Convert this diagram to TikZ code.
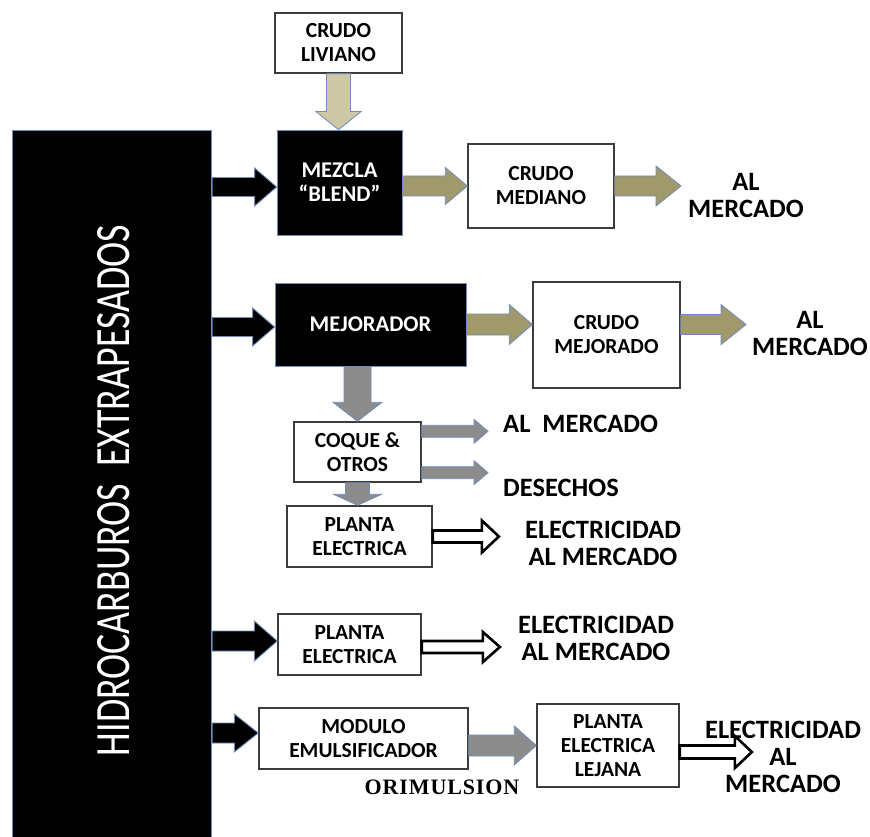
\documentclass[tikz,border=0pt]{standalone}
\usepackage{graphicx}
\usepackage{fontspec}
\setmainfont{Carlito}
\newfontfamily\orifont[LetterSpace=4]{Liberation Serif}
\usetikzlibrary{calc}

\definecolor{edgeblue}{RGB}{112,140,188}
\definecolor{khakilight}{RGB}{205,200,165}
\definecolor{khakidark}{RGB}{160,153,107}
\definecolor{flowgray}{RGB}{140,140,140}
\definecolor{boxline}{RGB}{60,60,60}

% block arrow pointing right: style, start, target, shaft half-width, head half-width, head length
\newcommand\arrR[6]{\path[#1] let \p1=(#2), \p2=(#3) in
  (\x1,\y1+#4) -- (\x2-#6,\y1+#4) -- (\x2-#6,\y1+#5) -- (\x2,\y1)
  -- (\x2-#6,\y1-#5) -- (\x2-#6,\y1-#4) -- (\x1,\y1-#4) -- cycle;}
% block arrow pointing down: style, start, target, shaft half-width, head half-width, head length
\newcommand\arrD[6]{\path[#1] let \p1=(#2), \p2=(#3) in
  (\x1+#4,\y1) -- (\x1+#4,\y2+#6) -- (\x1+#5,\y2+#6) -- (\x1,\y2)
  -- (\x1-#5,\y2+#6) -- (\x1-#4,\y2+#6) -- (\x1-#4,\y1) -- cycle;}

\begin{document}
\begin{tikzpicture}[x=1pt,y=-1pt,
  box/.style={draw=boxline, line width=1.4pt, fill=white, inner sep=0pt,
    align=center, font=\bfseries\fontsize{21.5}{24}\selectfont},
  darkbox/.style={draw=edgeblue, line width=0.8pt, fill=black, text=white,
    inner sep=0pt, align=center, font=\bfseries\fontsize{22.5}{24}\selectfont},
  bigtext/.style={align=center, inner sep=0pt,
    font=\bfseries\fontsize{26.5}{27}\selectfont},
  blackflow/.style={fill=black, draw=edgeblue, line width=0.9pt, line join=miter},
  paleflow/.style={fill=khakilight, draw=edgeblue, line width=0.8pt, line join=miter},
  oliveflow/.style={fill=khakidark, draw=edgeblue, line width=0.8pt, line join=miter},
  grayflow/.style={fill=flowgray, draw=edgeblue, line width=0.8pt, line join=miter},
  hollowflow/.style={fill=white, draw=black, line width=2.6pt, line join=miter}]

\useasboundingbox (0,0) rectangle (870,837);

% source column
\node[fill=black, draw=edgeblue, line width=1.2pt, inner sep=0pt,
  minimum width=199pt, minimum height=730pt, anchor=north west] (bar) at (12,130) {};
\node[rotate=90, text=white, inner sep=0pt] (source) at (114,490.5)
  {\resizebox{531pt}{32pt}{HIDROCARBUROS\ \ EXTRAPESADOS}};

% process boxes
\node[box, minimum width=127pt, minimum height=60pt] (liviano) at (338.5,43) {CRUDO\\LIVIANO};
\node[darkbox, minimum width=125pt, minimum height=105pt] (mezcla) at (339.5,182.5) {MEZCLA\\“BLEND”};
\node[box, minimum width=146pt, minimum height=84pt] (mediano) at (541,186) {CRUDO\\MEDIANO};
\node[darkbox, minimum width=191pt, minimum height=83pt] (mejorador) at (370.5,324.5) {MEJORADOR};
\node[box, minimum width=147pt, minimum height=106pt] (mejorado) at (606.5,335) {CRUDO\\MEJORADO};
\node[box, minimum width=127pt, minimum height=60pt] (coque) at (357.5,452) {COQUE \&\\OTROS};
\node[box, minimum width=145pt, minimum height=61pt] (planta1) at (359.5,536.5) {PLANTA\\ELECTRICA};
\node[box, minimum width=143pt, minimum height=61pt] (planta2) at (349.5,644.5) {PLANTA\\ELECTRICA};
\node[box, minimum width=209pt, minimum height=61pt] (modulo) at (363.5,738.5) {MODULO\\EMULSIFICADOR};
\node[box, minimum width=142pt, minimum height=83pt] (lejana) at (608,745.5) {PLANTA\\ELECTRICA\\LEJANA};

% destinations
\node[bigtext] (mkt1) at (746,195) {AL\\MERCADO};
\node[bigtext] (mkt2) at (810,333) {AL\\MERCADO};
\node[bigtext, anchor=west] (mkt3) at (503,424) {AL\ \ MERCADO};
\node[bigtext, anchor=west] (desechos) at (503,488) {DESECHOS};
\node[bigtext] (elec1) at (603,543) {ELECTRICIDAD\\AL MERCADO};
\node[bigtext] (elec2) at (596,638.5) {ELECTRICIDAD\\AL MERCADO};
\node[bigtext] (elec3) at (783,757) {ELECTRICIDAD\\AL\\MERCADO};
\node[inner sep=0pt, font=\orifont\bfseries\fontsize{22}{24}\selectfont] (ori) at (442,787) {ORIMULSION};

% reference points for arrows that sit off the box centres
\coordinate (in1) at ([yshift=-4.5pt]mezcla.west);
\coordinate (in2) at ([yshift=-2.5pt]mejorador.west);
\coordinate (in3) at ([yshift=3.5pt]planta2.west);
\coordinate (in4) at ([yshift=5.5pt]modulo.west);

% feeds from the source column
\arrR{blackflow}{bar.east |- in1}{in1}{9.5pt}{19pt}{22pt}
\arrR{blackflow}{bar.east |- in2}{in2}{9.5pt}{19pt}{22pt}
\arrR{blackflow}{bar.east |- in3}{in3}{10pt}{20pt}{23pt}
\arrR{blackflow}{bar.east |- in4}{in4}{10pt}{19pt}{24pt}

% blend branch
\arrD{paleflow}{liviano.south}{liviano.south |- mezcla.north}{12pt}{22.5pt}{18pt}
\arrR{oliveflow}{mezcla.east |- mediano.west}{mediano.west}{10pt}{18.5pt}{22pt}
\arrR{oliveflow}{mediano.east}{[xshift=-7pt]mkt1.west}{10pt}{20pt}{25pt}

% upgrader branch
\arrR{oliveflow}{mejorador.east}{mejorador.east -| mejorado.west}{10.5pt}{20pt}{23pt}
\arrR{oliveflow}{mejorado.east |- mejorador.east}{[xshift=-6pt]mkt2.west}{10pt}{20pt}{25pt}
\arrD{grayflow}{coque.north |- mejorador.south}{coque.north}{13.5pt}{24.5pt}{19pt}
\arrR{grayflow}{[yshift=-10pt]coque.north east}{[xshift=-15pt]mkt3.west}{6pt}{12pt}{14pt}
\arrR{grayflow}{[yshift=10pt]coque.south east}{[xshift=-15pt]desechos.west}{6pt}{12pt}{14pt}
\arrD{grayflow}{coque.south}{coque.south |- planta1.north}{12pt}{24pt}{11pt}
\arrR{hollowflow}{planta1.east}{[xshift=-26pt]elec1.west}{6pt}{16pt}{17pt}

% direct power plant
\arrR{hollowflow}{[yshift=-2.5pt]planta2.east}{[xshift=-18pt]elec2.west}{6pt}{15pt}{17pt}

% emulsion branch
\arrR{grayflow}{modulo.east |- lejana.west}{lejana.west}{10.5pt}{19.5pt}{22pt}
\arrR{hollowflow}{[yshift=-6.5pt]lejana.east}{[xshift=47pt]elec3.west}{6.5pt}{16pt}{17pt}

\end{tikzpicture}
\end{document}
